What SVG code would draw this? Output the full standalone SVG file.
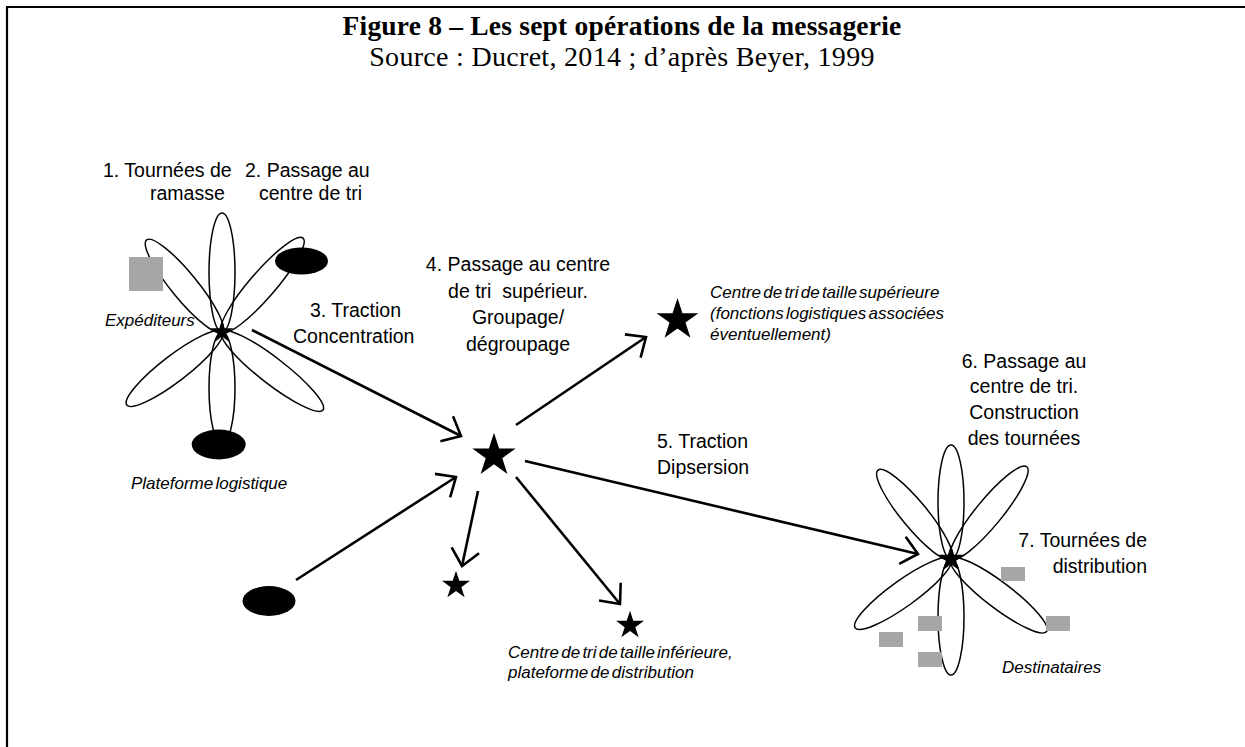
<svg xmlns="http://www.w3.org/2000/svg" xmlns:xlink="http://www.w3.org/1999/xlink" width="1245" height="747" viewBox="0 0 1245 747">
<style>
.t{font-family:"Liberation Sans",Arial,sans-serif;font-size:19.5px;fill:#000}
.i{font-family:"Liberation Sans",Arial,sans-serif;font-size:17px;font-style:italic;word-spacing:-2.5px;fill:#000}
.petal{fill:none;stroke:#000;stroke-width:1.5}
.blob{fill:#000}
.grey{fill:#A6A6A6}
.arrow{fill:none;stroke:#000;stroke-width:2.6;marker-end:url(#head)}
</style>
<defs>
<path id="star" d="M0,-10 L2.245,-3.09 L9.511,-3.09 L3.633,1.18 L5.878,8.09 L0,3.82 L-5.878,8.09 L-3.633,1.18 L-9.511,-3.09 L-2.245,-3.09 Z" fill="#000"/>
<marker id="head" markerUnits="userSpaceOnUse" orient="auto" overflow="visible" markerWidth="20" markerHeight="30" refX="0" refY="0">
<path d="M-16,-14 L0,0 L-16,14" fill="none" stroke="#000" stroke-width="2.6" stroke-linejoin="miter"/>
</marker>
</defs>
<rect width="1245" height="747" fill="#fff"/>
<path d="M7,747 L7,7 L1245,7" fill="none" stroke="#000" stroke-width="2.2"/>
<g id="title">
<text x="622" y="35" text-anchor="middle" font-family="'Liberation Serif','Times New Roman',serif" font-size="27.5" font-weight="bold" letter-spacing="0.2">Figure 8 – Les sept opérations de la messagerie</text>
<text x="622" y="66" text-anchor="middle" font-family="'Liberation Serif','Times New Roman',serif" font-size="28" letter-spacing="0.3">Source : Ducret, 2014 ; d’après Beyer, 1999</text>
</g>
<g id="flower-left">
<g transform="translate(222,332)">
<ellipse class="petal" transform="rotate(-90)" cx="59.5" cy="0" rx="59.5" ry="13"/>
<ellipse class="petal" transform="rotate(90)" cx="56" cy="0" rx="56" ry="13"/>
<ellipse class="petal" transform="rotate(-129.3)" cx="59.5" cy="0" rx="59.5" ry="13"/>
<ellipse class="petal" transform="rotate(-49.2)" cx="62" cy="0" rx="62" ry="13"/>
<ellipse class="petal" transform="rotate(142.5)" cx="60" cy="0" rx="60" ry="13"/>
<ellipse class="petal" transform="rotate(37.7)" cx="63.8" cy="0" rx="63.8" ry="13"/>
</g>
<use xlink:href="#star" transform="translate(222,332) scale(1.2)"/>
<rect class="grey" x="129" y="257" width="34" height="34"/>
<ellipse class="blob" cx="301.5" cy="261" rx="26.5" ry="13.5"/>
<ellipse class="blob" cx="218.7" cy="444.5" rx="27" ry="15"/>
<text class="t" x="103" y="177">1. Tournées de</text>
<text class="t" x="150" y="200">ramasse</text>
<text class="t" x="245" y="177">2. Passage au</text>
<text class="t" x="259" y="200">centre de tri</text>
<text class="i" x="105" y="326">Expéditeurs</text>
<text class="i" x="131" y="489">Plateforme logistique</text>
</g>
<g id="platform-bottom">
<ellipse class="blob" cx="269" cy="601" rx="26.5" ry="15"/>
</g>
<g id="hub-center">
<use xlink:href="#star" transform="translate(494,455.5) scale(2.28)"/>
<text class="t" text-anchor="middle" xml:space="preserve"><tspan x="518" y="271">4. Passage au centre</tspan><tspan x="518" y="298">de tri  supérieur.</tspan><tspan x="518" y="324">Groupage/</tspan><tspan x="518" y="351">dégroupage</tspan></text>
</g>
<g id="hub-upper">
<use xlink:href="#star" transform="translate(677.5,320) scale(2.2)"/>
<text class="i" x="710" y="298">Centre de tri de taille supérieure</text>
<text class="i" x="710" y="319">(fonctions logistiques associées</text>
<text class="i" x="710" y="340">éventuellement)</text>
</g>
<g id="hub-lower-a">
<use xlink:href="#star" transform="translate(456,585.4) scale(1.47)"/>
</g>
<g id="hub-lower-b">
<use xlink:href="#star" transform="translate(630,625.4) scale(1.47)"/>
<text class="i" x="508" y="658">Centre de tri de taille inférieure,</text>
<text class="i" x="508" y="678">plateforme de distribution</text>
</g>
<g id="flower-right">
<g transform="translate(951,559)">
<ellipse class="petal" transform="rotate(-90)" cx="57" cy="0" rx="57" ry="13"/>
<ellipse class="petal" transform="rotate(90)" cx="58" cy="0" rx="58" ry="13"/>
<ellipse class="petal" transform="rotate(-129.4)" cx="57.5" cy="0" rx="57.5" ry="13"/>
<ellipse class="petal" transform="rotate(-50.6)" cx="59.7" cy="0" rx="59.7" ry="13"/>
<ellipse class="petal" transform="rotate(144.3)" cx="59" cy="0" rx="59" ry="13"/>
<ellipse class="petal" transform="rotate(37.2)" cx="60" cy="0" rx="60" ry="13"/>
</g>
<use xlink:href="#star" transform="translate(951,559) scale(1.4)"/>
<rect class="grey" x="1001" y="567" width="24" height="14"/>
<rect class="grey" x="918" y="616" width="24" height="15"/>
<rect class="grey" x="879" y="632" width="24" height="15"/>
<rect class="grey" x="918" y="652" width="24" height="15"/>
<rect class="grey" x="1046" y="616" width="24" height="15"/>
<text class="t" text-anchor="middle"><tspan x="1024" y="368">6. Passage au</tspan><tspan x="1024" y="393">centre de tri.</tspan><tspan x="1024" y="419">Construction</tspan><tspan x="1024" y="445">des tournées</tspan></text>
<text class="t" text-anchor="end"><tspan x="1147" y="547">7. Tournées de</tspan><tspan x="1147" y="573">distribution</tspan></text>
<text class="i" x="1002" y="673">Destinataires</text>
</g>
<g id="connectors">
<line class="arrow" x1="252" y1="330" x2="461" y2="436"/>
<line class="arrow" x1="296" y1="580" x2="456" y2="477"/>
<line class="arrow" x1="516" y1="425" x2="646" y2="337"/>
<line class="arrow" x1="478" y1="491" x2="462" y2="566"/>
<line class="arrow" x1="516" y1="477" x2="620" y2="604"/>
<line class="arrow" x1="525" y1="461" x2="918" y2="554"/>
<text class="t" x="310" y="317">3. Traction</text>
<text class="t" x="293" y="343">Concentration</text>
<text class="t" x="657" y="448">5. Traction</text>
<text class="t" x="657" y="474">Dipsersion</text>
</g>
</svg>
